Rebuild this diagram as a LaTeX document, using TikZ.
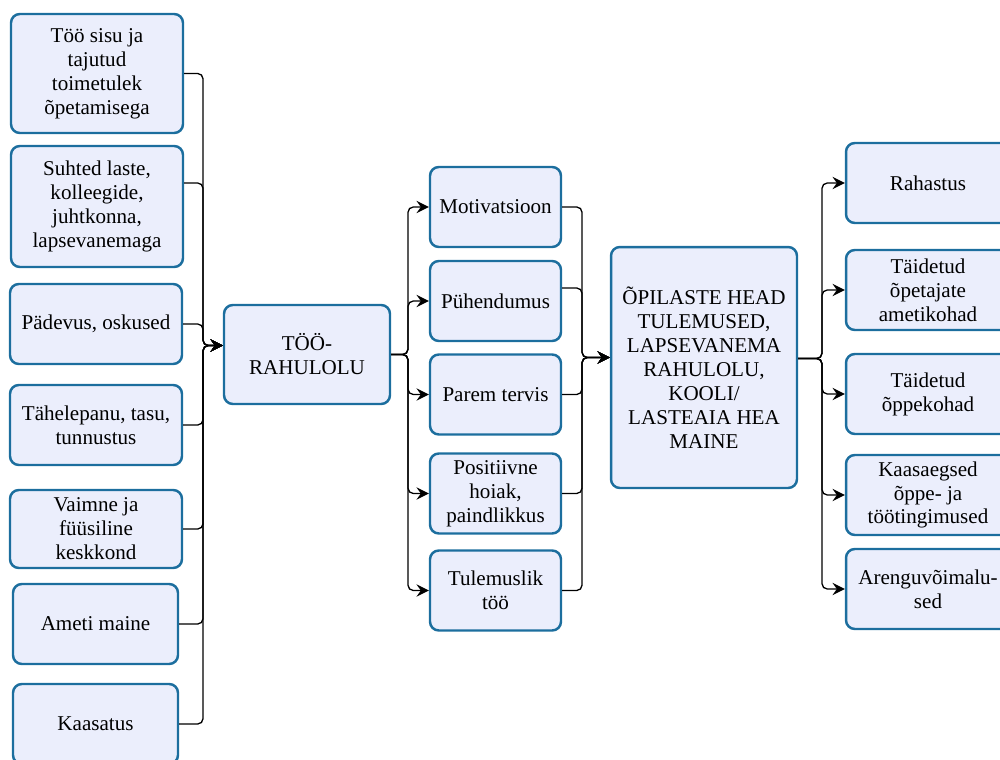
\documentclass[tikz,border=0pt]{standalone}
\usepackage{xcolor}
\usepackage{fontspec}
\setmainfont{Liberation Serif}
\usepackage{tikz}
\usetikzlibrary{arrows.meta}
\definecolor{boxline}{RGB}{28,110,158}
\definecolor{boxfill}{RGB}{235,238,252}
\tikzset{
    box/.style={draw=boxline, fill=boxfill, line width=1.4pt, rounded corners=5pt,
        align=center, inner sep=2pt, font=\fontsize{12}{13.6}\selectfont},
    link/.style={line width=0.75pt, rounded corners=3pt, -{Stealth[length=7pt,width=7pt,inset=2.5pt]}}
}

\begin{document}
\begin{tikzpicture}[x=0.02cm,y=-0.02cm]
        \useasboundingbox (0,0) rectangle (1000,760);
        \node[box, minimum width=3.44cm, minimum height=2.38cm] (sisu) at (97,73.5)
            {Töö sisu ja\\tajutud\\toimetulek\\õpetamisega};
        \node[box, minimum width=3.44cm, minimum height=2.42cm] (suhted) at (97,206.5)
            {Suhted laste,\\kolleegide,\\juhtkonna,\\lapsevanemaga};
        \node[box, minimum width=3.44cm, minimum height=1.6cm] (padevus) at (96,324)
            {Pädevus, oskused};
        \node[box, minimum width=3.44cm, minimum height=1.6cm] (tahelepanu) at (96,425)
            {Tähelepanu, tasu,\\tunnustus};
        \node[box, minimum width=3.44cm, minimum height=1.56cm] (keskkond) at (96,529)
            {Vaimne ja\\füüsiline\\keskkond};
        \node[box, minimum width=3.3cm, minimum height=1.6cm] (maine) at (95.5,624)
            {Ameti maine};
        \node[box, minimum width=3.3cm, minimum height=1.6cm] (kaasatus) at (95.5,724)
            {Kaasatus};

        \node[box, minimum width=3.32cm, minimum height=1.98cm] (rahulolu) at (307,354.5)
            {TÖÖ-\\RAHULOLU};

        \node[box, minimum width=2.62cm, minimum height=1.6cm] (motivatsioon) at (495.5,207)
            {Motivatsioon};
        \node[box, minimum width=2.62cm, minimum height=1.6cm] (puhendumus) at (495.5,301)
            {Pühendumus};
        \node[box, minimum width=2.62cm, minimum height=1.6cm] (tervis) at (495.5,394.5)
            {Parem tervis};
        \node[box, minimum width=2.62cm, minimum height=1.6cm] (hoiak) at (495.5,493.5)
            {Positiivne\\hoiak,\\paindlikkus};
        \node[box, minimum width=2.62cm, minimum height=1.6cm] (tulemuslik) at (495.5,590.5)
            {Tulemuslik\\töö};

        \node[box, minimum width=3.72cm, minimum height=4.82cm] (tulemused) at (704,367.5)
            {ÕPILASTE HEAD\\TULEMUSED,\\LAPSEVANEMA\\RAHULOLU,\\KOOLI/\\LASTEAIA HEA\\MAINE};

        \node[box, minimum width=3.28cm, minimum height=1.6cm] (rahastus) at (928,183)
            {Rahastus};
        \node[box, minimum width=3.28cm, minimum height=1.6cm] (ametikohad) at (928,290)
            {Täidetud\\õpetajate\\ametikohad};
        \node[box, minimum width=3.28cm, minimum height=1.6cm] (oppekohad) at (928,394)
            {Täidetud\\õppekohad};
        \node[box, minimum width=3.28cm, minimum height=1.6cm] (tingimused) at (928,495)
            {Kaasaegsed\\õppe- ja\\töötingimused};
        \node[box, minimum width=3.28cm, minimum height=1.6cm] (arengu) at (928,589)
            {Arenguvõimalu-\\sed};

        \coordinate (inL) at ([yshift=0.18cm]rahulolu.west);
        \coordinate (busL) at (203,0);
        \foreach \n in {sisu,padevus,tahelepanu,keskkond,maine,kaasatus}
            \draw[link] (\n.east) -| (busL |- inL) -- (inL);
        \draw[link] (suhted.east |- 0,183) -| (busL |- inL) -- (inL);

        \coordinate (busM) at (408,0);
        \foreach \n in {motivatsioon,puhendumus,tervis,hoiak,tulemuslik}
            \draw[link] (rahulolu.east) -| (busM |- \n.west) -- (\n.west);

        \coordinate (inB) at ([yshift=0.2cm]tulemused.west);
        \coordinate (busR) at (582,0);
        \foreach \n in {motivatsioon,tervis,hoiak,tulemuslik}
            \draw[link] (\n.east) -| (busR |- inB) -- (inB);
        \draw[link] (puhendumus.east |- 0,288) -| (busR |- inB) -- (inB);

        \coordinate (outB) at ([yshift=0.18cm]tulemused.east);
        \coordinate (busE) at (822,0);
        \foreach \n in {rahastus,ametikohad,oppekohad,tingimused,arengu}
            \draw[link] (outB) -| (busE |- \n.west) -- (\n.west);
\end{tikzpicture}
\end{document}
